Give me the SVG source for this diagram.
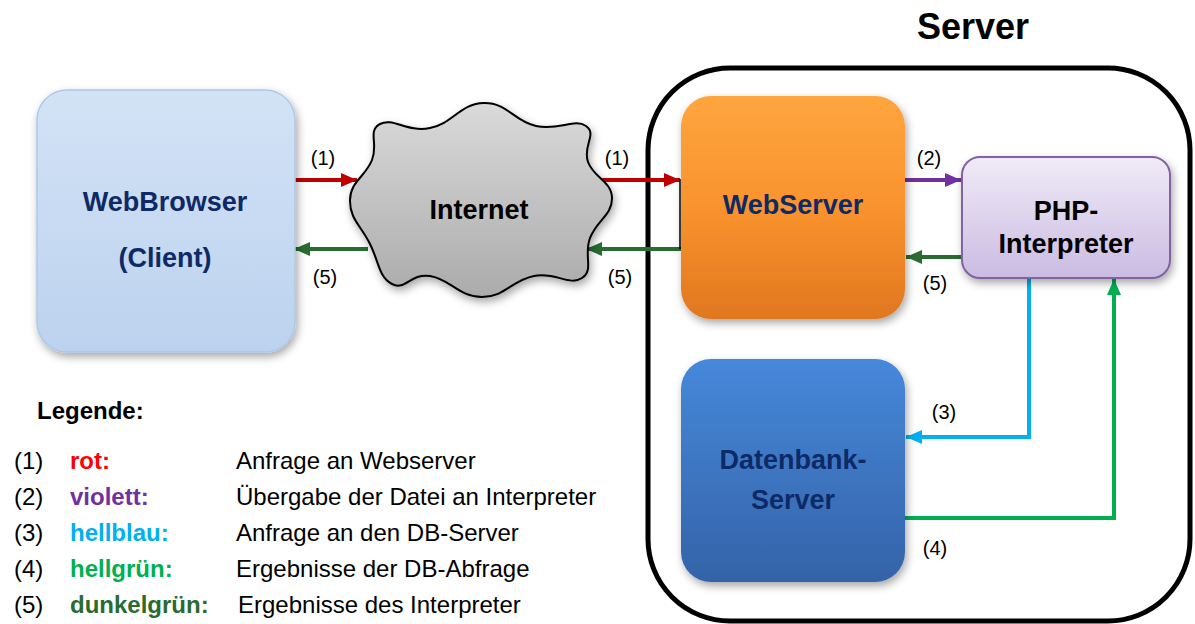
<svg xmlns="http://www.w3.org/2000/svg" width="1195" height="624" viewBox="0 0 1195 624">
<style>
.t{font-family:"Liberation Sans",Arial,sans-serif}
.nl{font-family:"Liberation Sans",Arial,sans-serif;font-weight:bold;font-size:27px;text-anchor:middle;fill:#0E2A66}
.bl{font-family:"Liberation Sans",Arial,sans-serif;font-weight:bold;font-size:27px;text-anchor:middle;fill:#000}
.el{font-family:"Liberation Sans",Arial,sans-serif;font-size:20px;text-anchor:middle;fill:#000}
.lg{font-family:"Liberation Sans",Arial,sans-serif;font-size:24px;fill:#000}
.lb{font-family:"Liberation Sans",Arial,sans-serif;font-size:24px;font-weight:bold}
.c{fill:none;stroke-width:4}
</style>
<defs>
<linearGradient id="gBrowser" x1="0" y1="0" x2="0" y2="1"><stop offset="0" stop-color="#D3E3F6"/><stop offset="1" stop-color="#BCD2EE"/></linearGradient>
<linearGradient id="gWeb" x1="0" y1="0" x2="0" y2="1"><stop offset="0" stop-color="#FFA53E"/><stop offset="0.5" stop-color="#F9932E"/><stop offset="1" stop-color="#E0771F"/></linearGradient>
<linearGradient id="gDb" x1="0" y1="0" x2="0" y2="1"><stop offset="0" stop-color="#4688DA"/><stop offset="1" stop-color="#3463A8"/></linearGradient>
<linearGradient id="gPhp" x1="0" y1="0" x2="0" y2="1"><stop offset="0" stop-color="#F0EBF7"/><stop offset="1" stop-color="#CBBBE2"/></linearGradient>
<linearGradient id="gCloud" x1="0" y1="0" x2="0" y2="1"><stop offset="0" stop-color="#DADADA"/><stop offset="1" stop-color="#ABABAB"/></linearGradient>
<filter id="sh" x="-20%" y="-20%" width="140%" height="140%"><feDropShadow dx="2" dy="4" stdDeviation="4" flood-color="#000" flood-opacity="0.35"/></filter>
<marker id="mRed" markerUnits="userSpaceOnUse" markerWidth="16" markerHeight="14" refX="16" refY="7" orient="auto"><path d="M0,0 L16,7 L0,14 z" fill="#C00000"/></marker>
<marker id="mPur" markerUnits="userSpaceOnUse" markerWidth="16" markerHeight="14" refX="16" refY="7" orient="auto"><path d="M0,0 L16,7 L0,14 z" fill="#7030A0"/></marker>
<marker id="mDg" markerUnits="userSpaceOnUse" markerWidth="16" markerHeight="14" refX="16" refY="7" orient="auto"><path d="M0,0 L16,7 L0,14 z" fill="#2A6B31"/></marker>
<marker id="mLb" markerUnits="userSpaceOnUse" markerWidth="16" markerHeight="14" refX="16" refY="7" orient="auto"><path d="M0,0 L16,7 L0,14 z" fill="#00B0F0"/></marker>
<marker id="mLg" markerUnits="userSpaceOnUse" markerWidth="16" markerHeight="14" refX="16" refY="7" orient="auto"><path d="M0,0 L16,7 L0,14 z" fill="#00B050"/></marker>
</defs>
<rect width="1195" height="624" fill="#fff"/>

<g id="server">
<rect x="648" y="68" width="542" height="553" rx="82" fill="none" stroke="#000" stroke-width="5"/>
<text x="973" y="39" class="t" font-size="36" font-weight="bold" text-anchor="middle">Server</text>
</g>

<g id="connectors">
<path class="c" stroke="#C00000" d="M292,180 H357" marker-end="url(#mRed)"/>
<path class="c" stroke="#C00000" d="M596,180 H680" marker-end="url(#mRed)"/>
<path class="c" stroke="#2A6B31" d="M368,249 H294" marker-end="url(#mDg)"/>
<path class="c" stroke="#2A6B31" d="M684,249 H586" marker-end="url(#mDg)"/>
<path d="M680,179 V249" stroke="#000" stroke-width="1.5" fill="none"/>
<path class="c" stroke="#7030A0" d="M903,180 H961" marker-end="url(#mPur)"/>
<path class="c" stroke="#2A6B31" d="M963,257 H906" marker-end="url(#mDg)"/>
<path class="c" stroke="#00B0F0" d="M1029,276 V437 H906" marker-end="url(#mLb)"/>
<path class="c" stroke="#00B050" d="M903,518 H1114 V279" marker-end="url(#mLg)"/>
<text class="el" x="323" y="165">(1)</text>
<text class="el" x="617" y="165">(1)</text>
<text class="el" x="325" y="284">(5)</text>
<text class="el" x="620" y="284">(5)</text>
<text class="el" x="929" y="165">(2)</text>
<text class="el" x="935" y="290">(5)</text>
<text class="el" x="944" y="419">(3)</text>
<text class="el" x="935" y="555">(4)</text>
</g>

<g id="webbrowser">
<rect x="37" y="90" width="258" height="262" rx="30" fill="url(#gBrowser)" stroke="#AFC8E8" stroke-width="1.5" filter="url(#sh)"/>
<text class="nl" x="165" y="211">WebBrowser</text>
<text class="nl" x="165" y="267">(Client)</text>
</g>

<g id="internet">
<path d="M484,103 C507.6,102.6 513.3,120.9 536,126 C558.7,131.1 574.4,118 586,126 C597.6,134 582.2,146 588,162 C593.8,178 611.6,181.1 612,198 C612.4,214.9 596.7,220.2 590,238 C583.3,255.8 594.4,269.6 582,278 C569.6,286.4 556.2,271.8 534,276 C511.8,280.2 505.1,297 482,297 C458.9,297 450,278.9 430,276 C410,273.1 405.3,291.1 392,284 C378.7,276.9 379.3,262.7 370,244 C360.7,225.3 349.6,218.7 350,200 C350.4,181.3 365.3,176.9 372,160 C378.7,143.1 367.1,131.1 380,124 C392.9,116.9 406.9,132.7 430,128 C453.1,123.3 460.4,103.4 484,103 Z" fill="url(#gCloud)" stroke="#000" stroke-width="2" filter="url(#sh)"/>
<text class="bl" x="479" y="219" font-size="29">Internet</text>
</g>

<g id="webserver">
<rect x="681" y="96" width="224" height="223" rx="30" fill="url(#gWeb)" filter="url(#sh)"/>
<text class="nl" x="793" y="214">WebServer</text>
</g>

<g id="php">
<rect x="962" y="157" width="208" height="121" rx="18" fill="url(#gPhp)" stroke="#8064A2" stroke-width="2" filter="url(#sh)"/>
<text class="bl" x="1066" y="220">PHP-</text>
<text class="bl" x="1066" y="253">Interpreter</text>
</g>

<g id="datenbank">
<rect x="681" y="359" width="224" height="223" rx="30" fill="url(#gDb)" filter="url(#sh)"/>
<text class="nl" x="793" y="469" font-size="28">Datenbank-</text>
<text class="nl" x="793" y="509" font-size="28">Server</text>
</g>

<g id="legend">
<text class="lb" x="37" y="419" fill="#000">Legende:</text>
<text class="lg" x="14" y="469">(1)</text>
<text class="lb" x="70" y="469" fill="#FF0000">rot:</text>
<text class="lg" x="236" y="469">Anfrage an Webserver</text>
<text class="lg" x="14" y="505">(2)</text>
<text class="lb" x="70" y="505" fill="#7030A0">violett:</text>
<text class="lg" x="236" y="505">Übergabe der Datei an Interpreter</text>
<text class="lg" x="14" y="541">(3)</text>
<text class="lb" x="70" y="541" fill="#00B0F0">hellblau:</text>
<text class="lg" x="236" y="541">Anfrage an den DB-Server</text>
<text class="lg" x="14" y="577">(4)</text>
<text class="lb" x="70" y="577" fill="#00B050">hellgrün:</text>
<text class="lg" x="236" y="577">Ergebnisse der DB-Abfrage</text>
<text class="lg" x="14" y="613">(5)</text>
<text class="lb" x="70" y="613" fill="#2A6B31">dunkelgrün:</text>
<text class="lg" x="238" y="613">Ergebnisse des Interpreter</text>
</g>
</svg>
